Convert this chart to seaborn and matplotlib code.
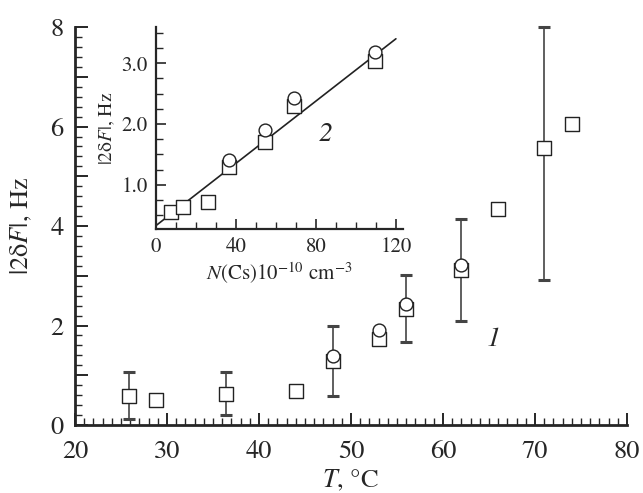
import matplotlib
matplotlib.use("Agg")
import matplotlib.pyplot as plt
import seaborn as sns
from matplotlib.ticker import MultipleLocator, FuncFormatter

# main panel: |2dF| vs temperature
temp_sq = [25.9, 28.8, 36.4, 44.0, 48.0, 53.0, 56.0, 62.0, 66.0, 71.0, 74.0]
df_sq = [0.59, 0.51, 0.63, 0.69, 1.28, 1.72, 2.33, 3.12, 4.34, 5.56, 6.06]
temp_ci = [48.0, 53.0, 56.0, 62.0]
df_ci = [1.38, 1.91, 2.43, 3.22]

# error bars (value, lower end, upper end)
temp_err = [25.9, 36.4, 48.0, 56.0, 62.0, 71.0]
df_err = [0.59, 0.63, 1.28, 2.33, 3.12, 5.56]
err_lo = [0.13, 0.20, 0.59, 1.66, 2.10, 2.91]
err_hi = [1.06, 1.06, 1.99, 3.02, 4.14, 8.00]

# inset: |2dF| vs N(Cs)
n_sq = [7.5, 13.7, 26.2, 36.5, 54.5, 69.2, 109.5]
n_df_sq = [0.55, 0.64, 0.72, 1.30, 1.71, 2.30, 3.04]
n_ci = [36.5, 54.5, 69.2, 109.5]
n_df_ci = [1.40, 1.90, 2.42, 3.18]
fit_n = [0, 120]
fit_df = [0.33, 3.40]

sns.set_style("ticks")
plt.rcParams["font.family"] = ["STIXGeneral", "DejaVu Sans"]
plt.rcParams["mathtext.fontset"] = "stix"

fig = plt.figure(figsize=(6.43, 4.93), dpi=100)
ax = fig.add_axes([0.1166, 0.138, 0.8584, 0.807])

lo = [v - l for v, l in zip(df_err, err_lo)]
hi = [h - v for v, h in zip(df_err, err_hi)]
_, caps, bars = ax.errorbar(temp_err, df_err, yerr=[lo, hi], fmt="none",
                            ecolor="#444444", elinewidth=1.2, capsize=4,
                            capthick=2.2, zorder=1)
for c in caps:
    c.set_color("#111111")
    c.set_clip_on(False)
for b in bars:
    b.set_clip_on(False)

sns.scatterplot(x=temp_sq, y=df_sq, ax=ax, marker="s", s=95,
                facecolor="white", edgecolor="#222222", linewidth=1.0, zorder=3)
sns.scatterplot(x=temp_ci, y=df_ci, ax=ax, marker="o", s=85,
                facecolor="white", edgecolor="#222222", linewidth=1.0, zorder=4)

ax.set_xlim(20, 80)
ax.set_ylim(0, 8)
ax.xaxis.set_major_locator(MultipleLocator(10))
ax.xaxis.set_minor_locator(MultipleLocator(1))
ax.yaxis.set_major_locator(MultipleLocator(1))
ax.yaxis.set_minor_locator(MultipleLocator(0.2))
ax.yaxis.set_major_formatter(FuncFormatter(
    lambda v, p: f"{v:.0f}" if round(v) % 2 == 0 else ""))
ax.tick_params(which="major", direction="in", length=9, width=1.4,
               labelsize=19)
ax.tick_params(axis="x", which="major", pad=11)
ax.tick_params(axis="y", which="major", pad=8)
ax.tick_params(which="minor", direction="in", length=5, width=1.0)
for side in ("top", "right"):
    ax.spines[side].set_visible(False)
for side in ("left", "bottom"):
    ax.spines[side].set_linewidth(2)
ax.set_xlabel(r"$T$, °C", fontsize=19, labelpad=3)
ax.set_ylabel(r"|2δ$F$|, Hz", fontsize=19, labelpad=12)
ax.text(65.5, 1.71, "1", fontsize=20, style="italic", ha="center", va="center")

# inset
ins = fig.add_axes([0.2426, 0.535, 0.384, 0.411])
sns.lineplot(x=fit_n, y=fit_df, ax=ins, color="#222222", linewidth=1.2)
sns.scatterplot(x=n_sq, y=n_df_sq, ax=ins, marker="s", s=95,
                facecolor="white", edgecolor="#222222", linewidth=1.0, zorder=3)
sns.scatterplot(x=n_ci, y=n_df_ci, ax=ins, marker="o", s=85,
                facecolor="white", edgecolor="#222222", linewidth=1.0, zorder=4)
ins.set_xlim(0, 123.5)
ins.set_ylim(0.27, 3.6)
ins.xaxis.set_major_locator(MultipleLocator(40))
ins.xaxis.set_minor_locator(MultipleLocator(10))
ins.yaxis.set_major_locator(MultipleLocator(1.0))
ins.yaxis.set_minor_locator(MultipleLocator(0.25))
ins.yaxis.set_major_formatter(FuncFormatter(lambda v, p: f"{v:.1f}"))
ins.tick_params(which="major", direction="in", length=7, width=1.2,
                labelsize=15, pad=6)
ins.tick_params(which="minor", direction="in", length=5, width=1.0)
for side in ("top", "right"):
    ins.spines[side].set_visible(False)
for side in ("left", "bottom"):
    ins.spines[side].set_linewidth(1.6)
ins.set_xlabel(r"$N$(Cs)10$^{-10}$ cm$^{-3}$", fontsize=15, labelpad=2)
ins.set_ylabel(r"|2δ$F$|, Hz", fontsize=14, labelpad=3)
ins.text(85, 1.82, "2", fontsize=20, style="italic", ha="center", va="center")

fig.savefig("out.png", dpi=100)
